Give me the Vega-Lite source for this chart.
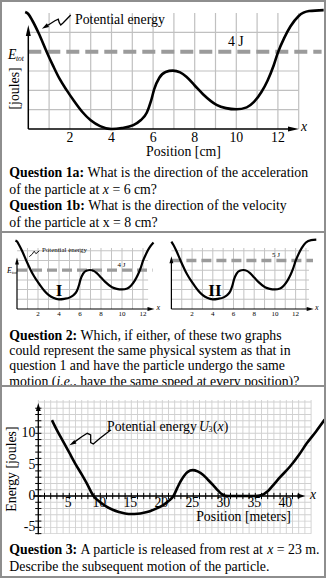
{
"$schema": "https://vega.github.io/schema/vega-lite/v6.json",
"background": "#8e8e8e",
"padding": {"left": 2, "top": 2, "right": 2, "bottom": 2},
"spacing": 0,
"bounds": "flush",
"config": {
  "view": {"fill": "white", "stroke": null},
  "text": {"font": "Liberation Serif", "fontSize": 13.8, "color": "black"},
  "line": {"color": "black"}
},
"datasets": {
  "u1": [{"x":-0.15,"u":6.05},{"x":0,"u":5.95},{"x":0.2,"u":5.6},{"x":0.5,"u":4.95},{"x":0.88,"u":4.0},{"x":1.2,"u":3.25},{"x":1.5,"u":2.6},{"x":1.85,"u":2.0},{"x":2.2,"u":1.45},{"x":2.6,"u":0.88},{"x":3.0,"u":0.45},{"x":3.45,"u":0.15},{"x":4.0,"u":0.0},{"x":4.5,"u":0.05},{"x":5.05,"u":0.2},{"x":5.4,"u":0.45},{"x":5.7,"u":0.85},{"x":5.9,"u":1.45},{"x":6.05,"u":2.05},{"x":6.3,"u":2.65},{"x":6.6,"u":2.95},{"x":6.95,"u":3.02},{"x":7.3,"u":2.93},{"x":7.6,"u":2.7},{"x":8.0,"u":2.25},{"x":8.4,"u":1.8},{"x":9.05,"u":1.25},{"x":9.5,"u":1.08},{"x":10.0,"u":1.02},{"x":10.5,"u":1.12},{"x":10.85,"u":1.4},{"x":11.2,"u":1.9},{"x":11.5,"u":2.5},{"x":11.8,"u":3.3},{"x":12.0,"u":3.95},{"x":12.3,"u":4.7},{"x":12.6,"u":5.3},{"x":13.0,"u":5.85},{"x":13.5,"u":6.1},{"x":14.2,"u":6.15}],
  "u1s": [{"x":-0.15,"u":7.05},{"x":0,"u":6.95},{"x":0.2,"u":6.6},{"x":0.5,"u":5.95},{"x":0.88,"u":5.0},{"x":1.2,"u":4.25},{"x":1.5,"u":3.6},{"x":1.85,"u":3.0},{"x":2.2,"u":2.45},{"x":2.6,"u":1.88},{"x":3.0,"u":1.45},{"x":3.45,"u":1.15},{"x":4.0,"u":1.0},{"x":4.5,"u":1.05},{"x":5.05,"u":1.2},{"x":5.4,"u":1.45},{"x":5.7,"u":1.85},{"x":5.9,"u":2.45},{"x":6.05,"u":3.05},{"x":6.3,"u":3.65},{"x":6.6,"u":3.95},{"x":6.95,"u":4.02},{"x":7.3,"u":3.93},{"x":7.6,"u":3.7},{"x":8.0,"u":3.25},{"x":8.4,"u":2.8},{"x":9.05,"u":2.25},{"x":9.5,"u":2.08},{"x":10.0,"u":2.02},{"x":10.5,"u":2.12},{"x":10.85,"u":2.4},{"x":11.2,"u":2.9},{"x":11.5,"u":3.5},{"x":11.8,"u":4.3},{"x":12.0,"u":4.95},{"x":12.3,"u":5.7},{"x":12.6,"u":6.3},{"x":13.0,"u":6.85},{"x":13.5,"u":7.1},{"x":14.0,"u":7.15}],
  "u3": [{"x":2.2,"u":12.1},{"x":3,"u":10.5},{"x":4,"u":8.7},{"x":5,"u":6.9},{"x":6,"u":5.1},{"x":7,"u":3.45},{"x":7.8,"u":2.05},{"x":8.9,"u":0.0},{"x":10,"u":-1.0},{"x":11,"u":-1.7},{"x":12,"u":-2.2},{"x":13,"u":-2.55},{"x":14,"u":-2.78},{"x":15,"u":-2.88},{"x":16,"u":-2.84},{"x":17,"u":-2.68},{"x":18,"u":-2.42},{"x":19,"u":-2.02},{"x":20.2,"u":-1.42},{"x":21,"u":-0.8},{"x":21.8,"u":0.0},{"x":22.4,"u":1.25},{"x":22.9,"u":2.25},{"x":23.5,"u":3.2},{"x":24.1,"u":3.85},{"x":24.9,"u":4.12},{"x":25.7,"u":3.92},{"x":26.6,"u":3.35},{"x":27.4,"u":2.55},{"x":28.2,"u":1.72},{"x":29,"u":0.85},{"x":29.6,"u":0.3},{"x":30.2,"u":0.03},{"x":31,"u":0},{"x":33,"u":0},{"x":35,"u":0},{"x":35.9,"u":0.1},{"x":37,"u":0.75},{"x":37.9,"u":1.75},{"x":39,"u":3.0},{"x":40.6,"u":4.7},{"x":42,"u":6.5},{"x":43.3,"u":8.4},{"x":44.8,"u":10.3},{"x":46.2,"u":12.2}],
  "gx": [{"g":0},{"g":1},{"g":2},{"g":3},{"g":4},{"g":5},{"g":6},{"g":7},{"g":8},{"g":9},{"g":10},{"g":11},{"g":12},{"g":13},{"g":14},{"g":15},{"g":16},{"g":17},{"g":18},{"g":19},{"g":20},{"g":21},{"g":22},{"g":23},{"g":24},{"g":25},{"g":26},{"g":27},{"g":28},{"g":29},{"g":30},{"g":31},{"g":32},{"g":33},{"g":34},{"g":35},{"g":36},{"g":37},{"g":38},{"g":39},{"g":40},{"g":41},{"g":42},{"g":43},{"g":44}],
  "gy": [{"g":-6},{"g":-5},{"g":-4},{"g":-3},{"g":-2},{"g":-1},{"g":0},{"g":1},{"g":2},{"g":3},{"g":4},{"g":5},{"g":6},{"g":7},{"g":8},{"g":9},{"g":10},{"g":11},{"g":12},{"g":13},{"g":14},{"g":15}],
  "smallticks": [{"v":2},{"v":4},{"v":6},{"v":8},{"v":10},{"v":12}]
},
"vconcat": [
  {
    "width": 322, "height": 158,
    "layer": [
      {"data": {"name": "gx"},
       "transform": [{"filter": "datum.g >= 1 && datum.g <= 13"}],
       "mark": {"type": "tick", "orient": "vertical", "color": "#c0c0c0", "thickness": 1.2, "size": 116, "opacity": 1},
       "encoding": {"x": {"field": "g", "type": "quantitative", "scale": {"domain": [-1.2644, 14.2163], "nice": false, "zero": false}, "axis": null},
                    "y": {"datum": 3, "type": "quantitative", "scale": {"domain": [-1.6037, 6.57], "nice": false, "zero": false}, "axis": null}}},
      {"data": {"name": "gy"},
       "transform": [{"filter": "datum.g >= 1 && datum.g <= 5 && datum.g != 4"}],
       "mark": {"type": "tick", "orient": "horizontal", "color": "#c0c0c0", "thickness": 1.2, "size": 270.4, "opacity": 1},
       "encoding": {"y": {"field": "g", "type": "quantitative"}, "x": {"datum": 6.5, "type": "quantitative"}}},
      {"data": {"values": [{"e": 4}]},
       "mark": {"type": "rule", "color": "#9b9b9b", "strokeWidth": 4, "strokeDash": [13, 6]},
       "encoding": {"y": {"field": "e", "type": "quantitative"}, "x": {"datum": 0, "type": "quantitative"}, "x2": {"datum": 14.1}}},
      {"data": {"values": [{"t": "4 J"}]},
       "mark": {"type": "text", "baseline": "middle", "align": "center"},
       "encoding": {"x": {"datum": 9.98, "type": "quantitative"}, "y": {"datum": 4.49, "type": "quantitative"}, "text": {"field": "t"}}},
      {"data": {"name": "u1"},
       "mark": {"type": "line", "interpolate": "monotone", "strokeWidth": 2.6, "color": "black", "clip": true},
       "encoding": {"x": {"field": "x", "type": "quantitative"}, "y": {"field": "u", "type": "quantitative"}}},
      {"data": {"values": [{"a": "x"}]},
       "mark": {"type": "rule", "strokeWidth": 1.5, "color": "black"},
       "encoding": {"x": {"datum": 0, "type": "quantitative"}, "x2": {"datum": 12.75}, "y": {"datum": 0, "type": "quantitative"}}},
      {"data": {"values": [{"a": "y"}]},
       "mark": {"type": "rule", "strokeWidth": 1.5, "color": "black"},
       "encoding": {"x": {"datum": 0, "type": "quantitative"}, "y": {"datum": 0, "type": "quantitative"}, "y2": {"datum": 5.1}}},
      {"data": {"values": [{"a": "x"}]},
       "mark": {"type": "point", "shape": "M-1,-0.45L1,0L-1,0.45Z", "filled": true, "size": 121, "color": "black", "opacity": 1},
       "encoding": {"x": {"datum": 12.75, "type": "quantitative"}, "y": {"datum": 0, "type": "quantitative"}}},
      {"data": {"values": [{"a": "y"}]},
       "mark": {"type": "point", "shape": "M-1,-0.45L1,0L-1,0.45Z", "filled": true, "size": 121, "color": "black", "opacity": 1, "angle": 270},
       "encoding": {"x": {"datum": 0, "type": "quantitative"}, "y": {"datum": 5.1, "type": "quantitative"}}},
      {"data": {"name": "smallticks"},
       "mark": {"type": "text", "baseline": "middle", "align": "center", "dy": 9.3},
       "encoding": {"x": {"field": "v", "type": "quantitative"}, "y": {"datum": 0, "type": "quantitative"}, "text": {"field": "v", "type": "nominal"}}},
      {"data": {"values": [{"t": "Position [cm]"}]},
       "mark": {"type": "text", "baseline": "middle", "align": "center"},
       "encoding": {"x": {"datum": 7.46, "type": "quantitative"}, "y": {"datum": -1.19, "type": "quantitative"}, "text": {"field": "t"}}},
      {"data": {"values": [{"t": "[joules]"}]},
       "mark": {"type": "text", "baseline": "middle", "align": "center", "angle": 270},
       "encoding": {"x": {"datum": -0.64, "type": "quantitative"}, "y": {"datum": 2.1, "type": "quantitative"}, "text": {"field": "t"}}},
      {"data": {"values": [{"t": "E"}]},
       "mark": {"type": "text", "align": "left", "fontStyle": "italic"},
       "encoding": {"x": {"datum": -0.976, "type": "quantitative"}, "y": {"datum": 3.83, "type": "quantitative"}, "text": {"field": "t"}}},
      {"data": {"values": [{"t": "tot"}]},
       "mark": {"type": "text", "align": "left", "fontStyle": "italic", "fontSize": 7.5, "dx": 8, "dy": 4},
       "encoding": {"x": {"datum": -0.976, "type": "quantitative"}, "y": {"datum": 3.83, "type": "quantitative"}, "text": {"field": "t"}}},
      {"data": {"values": [{"t": "x"}]},
       "mark": {"type": "text", "align": "center", "baseline": "middle", "fontStyle": "italic"},
       "encoding": {"x": {"datum": 13.26, "type": "quantitative"}, "y": {"datum": 0.1, "type": "quantitative"}, "text": {"field": "t"}}},
      {"data": {"values": [{"t": "Potential energy"}]},
       "mark": {"type": "text", "align": "left"},
       "encoding": {"x": {"datum": 2.245, "type": "quantitative"}, "y": {"datum": 5.66, "type": "quantitative"}, "text": {"field": "t"}}},
      {"data": {"values": [{"i":0,"x":2.04,"y":5.9},{"i":1,"x":1.68,"y":5.5},{"i":2,"x":1.56,"y":5.38},{"i":3,"x":1.49,"y":5.5},{"i":4,"x":1.44,"y":5.68},{"i":5,"x":1.28,"y":5.6},{"i":6,"x":0.885,"y":5.33}]},
       "mark": {"type": "line", "strokeWidth": 1.3, "color": "black"},
       "encoding": {"x": {"field": "x", "type": "quantitative"}, "y": {"field": "y", "type": "quantitative"}, "order": {"field": "i", "type": "quantitative"}}},
      {"data": {"values": [{"a": "tip"}]},
       "mark": {"type": "point", "shape": "M-1,-0.6L1,0L-1,0.6Z", "filled": true, "size": 49, "color": "black", "opacity": 1, "angle": 150},
       "encoding": {"x": {"datum": 0.8, "type": "quantitative"}, "y": {"datum": 5.28, "type": "quantitative"}}}
    ]
  },
  {
    "width": 322, "height": 71,
    "layer": [
      {"data": {"values": [{"line": 1, "t": "Question 1a:"}, {"line": 3, "t": "Question 1b:"}]},
       "mark": {"type": "text", "align": "left", "fontWeight": "bold", "dx": 7.3},
       "encoding": {"x": {"datum": 0, "type": "quantitative", "scale": {"domain": [0, 1], "nice": false, "zero": false}, "axis": null},
                    "y": {"field": "line", "type": "quantitative", "scale": {"domain": [0.2216, 4.473], "reverse": true, "nice": false, "zero": false}, "axis": null},
                    "text": {"field": "t"}}},
      {"data": {"values": [{"line": 2, "t": "of the particle at"}, {"line": 4, "t": "of the particle at x = 8 cm?"}]},
       "mark": {"type": "text", "align": "left", "dx": 7.3},
       "encoding": {"x": {"datum": 0, "type": "quantitative"}, "y": {"field": "line", "type": "quantitative"}, "text": {"field": "t"}}},
      {"data": {"values": [{"line": 1, "t": "What is the direction of the acceleration"}]},
       "mark": {"type": "text", "align": "left", "dx": 85.5},
       "encoding": {"x": {"datum": 0, "type": "quantitative"}, "y": {"field": "line", "type": "quantitative"}, "text": {"field": "t"}}},
      {"data": {"values": [{"line": 3, "t": "What is the direction of the velocity"}]},
       "mark": {"type": "text", "align": "left", "dx": 86.3},
       "encoding": {"x": {"datum": 0, "type": "quantitative"}, "y": {"field": "line", "type": "quantitative"}, "text": {"field": "t"}}},
      {"data": {"values": [{"line": 2, "t": "x"}]},
       "mark": {"type": "text", "align": "left", "fontStyle": "italic", "dx": 100.8},
       "encoding": {"x": {"datum": 0, "type": "quantitative"}, "y": {"field": "line", "type": "quantitative"}, "text": {"field": "t"}}},
      {"data": {"values": [{"line": 2, "t": "= 6 cm?"}]},
       "mark": {"type": "text", "align": "left", "dx": 110.4},
       "encoding": {"x": {"datum": 0, "type": "quantitative"}, "y": {"field": "line", "type": "quantitative"}, "text": {"field": "t"}}}
    ]
  },
  {
    "width": 322, "height": 2, "view": {"fill": "#8e8e8e"},
    "data": {"values": [{"d": 0}]},
    "mark": {"type": "text", "text": ""},
    "encoding": {}
  },
  {
    "width": 322, "height": 85,
    "resolve": {"scale": {"x": "independent"}},
    "layer": [
    {
      "layer": [
        {"data": {"name": "gx"},
         "transform": [{"filter": "datum.g >= 1 && datum.g <= 12"}],
         "mark": {"type": "tick", "orient": "vertical", "color": "#c4c4c4", "thickness": 1, "size": 61, "opacity": 1},
         "encoding": {"x": {"field": "g", "type": "quantitative", "scale": {"domain": [-1.4286, 29.238], "nice": false, "zero": false}, "axis": null},
                      "y": {"datum": 3.15, "type": "quantitative", "scale": {"domain": [-0.9278, 7.8351], "nice": false, "zero": false}, "axis": null}}},
        {"data": {"name": "gy"},
         "transform": [{"filter": "datum.g >= 1 && datum.g <= 6 && datum.g != 4"}],
         "mark": {"type": "tick", "orient": "horizontal", "color": "#c4c4c4", "thickness": 1, "size": 131, "opacity": 1},
         "encoding": {"y": {"field": "g", "type": "quantitative"}, "x": {"datum": 6.25, "type": "quantitative"}}},
        {"data": {"values": [{"e": 4}]},
         "mark": {"type": "rule", "color": "#9b9b9b", "strokeWidth": 3.3, "strokeDash": [10, 5]},
         "encoding": {"y": {"field": "e", "type": "quantitative"}, "x": {"datum": 0, "type": "quantitative"}, "x2": {"datum": 12.9}}},
        {"data": {"values": [{"t": "4 J"}]},
         "mark": {"type": "text", "baseline": "middle", "align": "center", "fontSize": 7},
         "encoding": {"x": {"datum": 9.95, "type": "quantitative"}, "y": {"datum": 4.5, "type": "quantitative"}, "text": {"field": "t"}}},
        {"data": {"name": "u1s"},
         "transform": [{"filter": "datum.x <= 13.1"}],
         "mark": {"type": "line", "interpolate": "monotone", "strokeWidth": 2.2, "color": "black", "clip": true},
         "encoding": {"x": {"field": "x", "type": "quantitative"}, "y": {"field": "u", "type": "quantitative"}}},
        {"data": {"values": [{"a": "x"}]},
         "mark": {"type": "rule", "strokeWidth": 1.2, "color": "black"},
         "encoding": {"x": {"datum": 0, "type": "quantitative"}, "x2": {"datum": 12.76}, "y": {"datum": 0, "type": "quantitative"}}},
        {"data": {"values": [{"a": "y"}]},
         "mark": {"type": "rule", "strokeWidth": 1.2, "color": "black"},
         "encoding": {"x": {"datum": 0, "type": "quantitative"}, "y": {"datum": 0, "type": "quantitative"}, "y2": {"datum": 4.95}}},
        {"data": {"values": [{"a": "x"}]},
         "mark": {"type": "point", "shape": "M-1,-0.55L1,0L-1,0.55Z", "filled": true, "size": 49, "color": "black", "opacity": 1},
         "encoding": {"x": {"datum": 12.76, "type": "quantitative"}, "y": {"datum": 0, "type": "quantitative"}}},
        {"data": {"values": [{"a": "y"}]},
         "mark": {"type": "point", "shape": "M-1,-0.55L1,0L-1,0.55Z", "filled": true, "size": 49, "color": "black", "opacity": 1, "angle": 270},
         "encoding": {"x": {"datum": 0, "type": "quantitative"}, "y": {"datum": 4.95, "type": "quantitative"}}},
        {"data": {"name": "smallticks"},
         "mark": {"type": "text", "baseline": "top", "align": "center", "fontSize": 7, "dy": 1},
         "encoding": {"x": {"field": "v", "type": "quantitative"}, "y": {"datum": 0, "type": "quantitative"}, "text": {"field": "v", "type": "nominal"}}},
        {"data": {"values": [{"t": "x"}]},
         "mark": {"type": "text", "align": "center", "baseline": "middle", "fontStyle": "italic", "fontSize": 8},
         "encoding": {"x": {"datum": 13.45, "type": "quantitative"}, "y": {"datum": 0.1, "type": "quantitative"}, "text": {"field": "t"}}},
        {"data": {"values": [{"t": "E"}]},
         "mark": {"type": "text", "align": "left", "fontStyle": "italic", "fontSize": 8},
         "encoding": {"x": {"datum": -0.95, "type": "quantitative"}, "y": {"datum": 3.9, "type": "quantitative"}, "text": {"field": "t"}}},
        {"data": {"values": [{"t": "tot"}]},
         "mark": {"type": "text", "align": "left", "fontStyle": "italic", "fontSize": 4.5, "dx": 5, "dy": 2},
         "encoding": {"x": {"datum": -0.95, "type": "quantitative"}, "y": {"datum": 3.9, "type": "quantitative"}, "text": {"field": "t"}}},
        {"data": {"values": [{"t": "Potential energy"}]},
         "mark": {"type": "text", "align": "left", "baseline": "middle", "fontSize": 6.9},
         "encoding": {"x": {"datum": 2.38, "type": "quantitative"}, "y": {"datum": 6.08, "type": "quantitative"}, "text": {"field": "t"}}},
        {"data": {"values": [{"i":0,"x":2.12,"y":6.0},{"i":1,"x":1.8,"y":5.7},{"i":2,"x":1.72,"y":5.85},{"i":3,"x":1.62,"y":5.95},{"i":4,"x":1.45,"y":5.65},{"i":5,"x":1.17,"y":5.4}]},
         "mark": {"type": "line", "strokeWidth": 0.9, "color": "black"},
         "encoding": {"x": {"field": "x", "type": "quantitative"}, "y": {"field": "y", "type": "quantitative"}, "order": {"field": "i", "type": "quantitative"}}},
        {"data": {"values": [{"t": "I"}]},
         "mark": {"type": "text", "align": "center", "baseline": "middle", "fontWeight": "bold", "fontSize": 17},
         "encoding": {"x": {"datum": 4.0, "type": "quantitative"}, "y": {"datum": 1.9, "type": "quantitative"}, "text": {"field": "t"}}}
      ]
    },
    {
      "layer": [
        {"data": {"name": "gx"},
         "transform": [{"filter": "datum.g >= 1 && datum.g <= 13"}],
         "mark": {"type": "tick", "orient": "vertical", "color": "#c4c4c4", "thickness": 1, "size": 61, "opacity": 1},
         "encoding": {"x": {"field": "g", "type": "quantitative", "scale": {"domain": [-16.367, 14.744], "nice": false, "zero": false}, "axis": null},
                      "y": {"datum": 3.15, "type": "quantitative", "axis": null}}},
        {"data": {"name": "gy"},
         "transform": [{"filter": "datum.g >= 1 && datum.g <= 6 && datum.g != 5"}],
         "mark": {"type": "tick", "orient": "horizontal", "color": "#c4c4c4", "thickness": 1, "size": 137.6, "opacity": 1},
         "encoding": {"y": {"field": "g", "type": "quantitative"}, "x": {"datum": 6.65, "type": "quantitative"}}},
        {"data": {"values": [{"e": 5}]},
         "mark": {"type": "rule", "color": "#9b9b9b", "strokeWidth": 3.3, "strokeDash": [10, 5]},
         "encoding": {"y": {"field": "e", "type": "quantitative"}, "x": {"datum": 0, "type": "quantitative"}, "x2": {"datum": 13.68}}},
        {"data": {"values": [{"t": "5 J"}]},
         "mark": {"type": "text", "baseline": "middle", "align": "center", "fontSize": 7},
         "encoding": {"x": {"datum": 10.1, "type": "quantitative"}, "y": {"datum": 5.57, "type": "quantitative"}, "text": {"field": "t"}}},
        {"data": {"name": "u1s"},
         "transform": [{"filter": "datum.x >= -0.1"}],
         "mark": {"type": "line", "interpolate": "monotone", "strokeWidth": 2.2, "color": "black", "clip": true},
         "encoding": {"x": {"field": "x", "type": "quantitative"}, "y": {"field": "u", "type": "quantitative"}}},
        {"data": {"values": [{"a": "x"}]},
         "mark": {"type": "rule", "strokeWidth": 1.2, "color": "black"},
         "encoding": {"x": {"datum": 0, "type": "quantitative"}, "x2": {"datum": 13.41}, "y": {"datum": 0, "type": "quantitative"}}},
        {"data": {"values": [{"a": "y"}]},
         "mark": {"type": "rule", "strokeWidth": 1.2, "color": "black"},
         "encoding": {"x": {"datum": 0, "type": "quantitative"}, "y": {"datum": 0, "type": "quantitative"}, "y2": {"datum": 5.09}}},
        {"data": {"values": [{"a": "x"}]},
         "mark": {"type": "point", "shape": "M-1,-0.55L1,0L-1,0.55Z", "filled": true, "size": 49, "color": "black", "opacity": 1},
         "encoding": {"x": {"datum": 13.41, "type": "quantitative"}, "y": {"datum": 0, "type": "quantitative"}}},
        {"data": {"values": [{"a": "y"}]},
         "mark": {"type": "point", "shape": "M-1,-0.55L1,0L-1,0.55Z", "filled": true, "size": 49, "color": "black", "opacity": 1, "angle": 270},
         "encoding": {"x": {"datum": 0, "type": "quantitative"}, "y": {"datum": 5.09, "type": "quantitative"}}},
        {"data": {"name": "smallticks"},
         "mark": {"type": "text", "baseline": "top", "align": "center", "fontSize": 7, "dy": 1},
         "encoding": {"x": {"field": "v", "type": "quantitative"}, "y": {"datum": 0, "type": "quantitative"}, "text": {"field": "v", "type": "nominal"}}},
        {"data": {"values": [{"t": "x"}]},
         "mark": {"type": "text", "align": "center", "baseline": "middle", "fontStyle": "italic", "fontSize": 8},
         "encoding": {"x": {"datum": 14.05, "type": "quantitative"}, "y": {"datum": 0.1, "type": "quantitative"}, "text": {"field": "t"}}},
        {"data": {"values": [{"t": "II"}]},
         "mark": {"type": "text", "align": "center", "baseline": "middle", "fontWeight": "bold", "fontSize": 17},
         "encoding": {"x": {"datum": 4.2, "type": "quantitative"}, "y": {"datum": 1.9, "type": "quantitative"}, "text": {"field": "t"}}}
      ]
    }
    ]
  },
  {
    "width": 322, "height": 67,
    "layer": [
      {"data": {"values": [{"line": 1, "t": "Question 2:"}]},
       "mark": {"type": "text", "align": "left", "fontWeight": "bold", "dx": 7.3},
       "encoding": {"x": {"datum": 0, "type": "quantitative", "scale": {"domain": [0, 1], "nice": false, "zero": false}, "axis": null},
                    "y": {"field": "line", "type": "quantitative", "scale": {"domain": [-0.1842, 4.2237], "reverse": true, "nice": false, "zero": false}, "axis": null},
                    "text": {"field": "t"}}},
      {"data": {"values": [{"line": 1, "t": "Which, if either, of these two graphs"}]},
       "mark": {"type": "text", "align": "left", "dx": 78.6},
       "encoding": {"x": {"datum": 0, "type": "quantitative"}, "y": {"field": "line", "type": "quantitative"}, "text": {"field": "t"}}},
      {"data": {"values": [{"line": 2, "t": "could represent the same physical system as that in"}, {"line": 3, "t": "question 1 and have the particle undergo the same"}, {"line": 4, "t": "motion ("}]},
       "mark": {"type": "text", "align": "left", "dx": 7.3},
       "encoding": {"x": {"datum": 0, "type": "quantitative"}, "y": {"field": "line", "type": "quantitative"}, "text": {"field": "t"}}},
      {"data": {"values": [{"line": 4, "t": "i.e.,"}]},
       "mark": {"type": "text", "align": "left", "fontStyle": "italic", "dx": 54.45},
       "encoding": {"x": {"datum": 0, "type": "quantitative"}, "y": {"field": "line", "type": "quantitative"}, "text": {"field": "t"}}},
      {"data": {"values": [{"line": 4, "t": "have the same speed at every position)?"}]},
       "mark": {"type": "text", "align": "left", "dx": 78.2},
       "encoding": {"x": {"datum": 0, "type": "quantitative"}, "y": {"field": "line", "type": "quantitative"}, "text": {"field": "t"}}}
    ]
  },
  {
    "width": 322, "height": 2, "view": {"fill": "#8e8e8e"},
    "data": {"values": [{"d": 0}]},
    "mark": {"type": "text", "text": ""},
    "encoding": {}
  },
  {
    "width": 322, "height": 152,
    "layer": [
      {"data": {"name": "gx"},
       "mark": {"type": "tick", "orient": "vertical", "color": "#d0d0d0", "thickness": 0.9, "size": 133.6, "opacity": 1},
       "encoding": {"x": {"field": "g", "type": "quantitative", "scale": {"domain": [-5.855, 46.081], "nice": false, "zero": false}, "axis": null},
                    "y": {"datum": 4.65, "type": "quantitative", "scale": {"domain": [-6.858, 17.384], "nice": false, "zero": false}, "axis": null}}},
      {"data": {"name": "gy"},
       "mark": {"type": "tick", "orient": "horizontal", "color": "#d0d0d0", "thickness": 0.9, "size": 272.8, "opacity": 1},
       "encoding": {"y": {"field": "g", "type": "quantitative"}, "x": {"datum": 22, "type": "quantitative"}}},
      {"data": {"name": "u3"},
       "mark": {"type": "line", "interpolate": "monotone", "strokeWidth": 2.6, "color": "black", "clip": true},
       "encoding": {"x": {"field": "x", "type": "quantitative"}, "y": {"field": "u", "type": "quantitative"}}},
      {"data": {"values": [{"a": "x"}]},
       "mark": {"type": "rule", "strokeWidth": 1.3, "color": "black"},
       "encoding": {"x": {"datum": -0.8, "type": "quantitative"}, "x2": {"datum": 42.45}, "y": {"datum": 0, "type": "quantitative"}}},
      {"data": {"values": [{"a": "y"}]},
       "mark": {"type": "rule", "strokeWidth": 1.3, "color": "black"},
       "encoding": {"x": {"datum": 0, "type": "quantitative"}, "y": {"datum": -6.1, "type": "quantitative"}, "y2": {"datum": 14.2}}},
      {"data": {"name": "gx"},
       "transform": [{"filter": "datum.g >= 1 && datum.g <= 42"}],
       "mark": {"type": "rule", "strokeWidth": 1, "color": "black"},
       "encoding": {"x": {"field": "g", "type": "quantitative"}, "y": {"datum": -0.5, "type": "quantitative"}, "y2": {"datum": 0.5}}},
      {"data": {"name": "gy"},
       "transform": [{"filter": "datum.g <= 14"}],
       "mark": {"type": "rule", "strokeWidth": 1, "color": "black"},
       "encoding": {"y": {"field": "g", "type": "quantitative"}, "x": {"datum": -0.5, "type": "quantitative"}, "x2": {"datum": 0.5}}},
      {"data": {"values": [{"a": "x"}]},
       "mark": {"type": "point", "shape": "M-1,-0.6L1,0L-1,0.6Z", "filled": true, "size": 64, "color": "black", "opacity": 1},
       "encoding": {"x": {"datum": 42.45, "type": "quantitative"}, "y": {"datum": 0, "type": "quantitative"}}},
      {"data": {"values": [{"a": "y"}]},
       "mark": {"type": "point", "shape": "M-1,-0.6L1,0L-1,0.6Z", "filled": true, "size": 64, "color": "black", "opacity": 1, "angle": 270},
       "encoding": {"x": {"datum": 0, "type": "quantitative"}, "y": {"datum": 14.2, "type": "quantitative"}}},
      {"data": {"values": [{"v": 5}, {"v": 10}, {"v": 15}, {"v": 20}, {"v": 25}, {"v": 30}, {"v": 35}, {"v": 40}]},
       "mark": {"type": "text", "baseline": "middle", "align": "center", "dy": 7.5, "dx": -1},
       "encoding": {"x": {"field": "v", "type": "quantitative"}, "y": {"datum": 0, "type": "quantitative"}, "text": {"field": "v", "type": "nominal"}}},
      {"data": {"values": [{"v": 10}, {"v": 5}, {"v": 0}, {"v": -5}]},
       "mark": {"type": "text", "baseline": "middle", "align": "right", "dx": -3},
       "encoding": {"y": {"field": "v", "type": "quantitative"}, "x": {"datum": 0, "type": "quantitative"}, "text": {"field": "v", "type": "nominal"}}},
      {"data": {"values": [{"t": "Energy [joules]"}]},
       "mark": {"type": "text", "baseline": "middle", "align": "center", "angle": 270},
       "encoding": {"x": {"datum": -4.24, "type": "quantitative"}, "y": {"datum": 4.3, "type": "quantitative"}, "text": {"field": "t"}}},
      {"data": {"values": [{"t": "Position [meters]"}]},
       "mark": {"type": "text", "baseline": "middle", "align": "center"},
       "encoding": {"x": {"datum": 33.1, "type": "quantitative"}, "y": {"datum": -3.35, "type": "quantitative"}, "text": {"field": "t"}}},
      {"data": {"values": [{"t": "x"}]},
       "mark": {"type": "text", "baseline": "middle", "align": "center", "fontStyle": "italic"},
       "encoding": {"x": {"datum": 44.3, "type": "quantitative"}, "y": {"datum": 0.1, "type": "quantitative"}, "text": {"field": "t"}}},
      {"data": {"values": [{"t": "Potential energy"}]},
       "mark": {"type": "text", "align": "left"},
       "encoding": {"x": {"datum": 11.08, "type": "quantitative"}, "y": {"datum": 11.0, "type": "quantitative"}, "text": {"field": "t"}}},
      {"data": {"values": [{"t": "U"}]},
       "mark": {"type": "text", "align": "left", "fontStyle": "italic", "dx": 92},
       "encoding": {"x": {"datum": 11.08, "type": "quantitative"}, "y": {"datum": 11.0, "type": "quantitative"}, "text": {"field": "t"}}},
      {"data": {"values": [{"t": "3"}]},
       "mark": {"type": "text", "align": "left", "fontSize": 8, "dx": 101.5, "dy": 3},
       "encoding": {"x": {"datum": 11.08, "type": "quantitative"}, "y": {"datum": 11.0, "type": "quantitative"}, "text": {"field": "t"}}},
      {"data": {"values": [{"t": "("}]},
       "mark": {"type": "text", "align": "left", "dx": 106},
       "encoding": {"x": {"datum": 11.08, "type": "quantitative"}, "y": {"datum": 11.0, "type": "quantitative"}, "text": {"field": "t"}}},
      {"data": {"values": [{"t": "x"}]},
       "mark": {"type": "text", "align": "left", "fontStyle": "italic", "dx": 110.6},
       "encoding": {"x": {"datum": 11.08, "type": "quantitative"}, "y": {"datum": 11.0, "type": "quantitative"}, "text": {"field": "t"}}},
      {"data": {"values": [{"t": ")"}]},
       "mark": {"type": "text", "align": "left", "dx": 116.7},
       "encoding": {"x": {"datum": 11.08, "type": "quantitative"}, "y": {"datum": 11.0, "type": "quantitative"}, "text": {"field": "t"}}},
      {"data": {"values": [{"i":0,"x":11.68,"y":10.53},{"i":1,"x":9.95,"y":9.2},{"i":2,"x":8.87,"y":8.29},{"i":3,"x":8.45,"y":8.5},{"i":4,"x":8.45,"y":9.73},{"i":5,"x":7.9,"y":10.0},{"i":6,"x":7.0,"y":9.46},{"i":7,"x":5.75,"y":8.55}]},
       "mark": {"type": "line", "strokeWidth": 1.3, "color": "black"},
       "encoding": {"x": {"field": "x", "type": "quantitative"}, "y": {"field": "y", "type": "quantitative"}, "order": {"field": "i", "type": "quantitative"}}},
      {"data": {"values": [{"a": "tip"}]},
       "mark": {"type": "point", "shape": "M-1,-0.6L1,0L-1,0.6Z", "filled": true, "size": 49, "color": "black", "opacity": 1, "angle": 150},
       "encoding": {"x": {"datum": 5.5, "type": "quantitative"}, "y": {"datum": 8.38, "type": "quantitative"}}}
    ]
  },
  {
    "width": 322, "height": 37,
    "layer": [
      {"data": {"values": [{"line": 1, "t": "Question 3:"}]},
       "mark": {"type": "text", "align": "left", "fontWeight": "bold", "dx": 7.3},
       "encoding": {"x": {"datum": 0, "type": "quantitative", "scale": {"domain": [0, 1], "nice": false, "zero": false}, "axis": null},
                    "y": {"field": "line", "type": "quantitative", "scale": {"domain": [0.3413, 2.5569], "reverse": true, "nice": false, "zero": false}, "axis": null},
                    "text": {"field": "t"}}},
      {"data": {"values": [{"line": 1, "t": "A particle is released from rest at"}]},
       "mark": {"type": "text", "align": "left", "dx": 78.6},
       "encoding": {"x": {"datum": 0, "type": "quantitative"}, "y": {"field": "line", "type": "quantitative"}, "text": {"field": "t"}}},
      {"data": {"values": [{"line": 1, "t": "x"}]},
       "mark": {"type": "text", "align": "left", "fontStyle": "italic", "dx": 265.2},
       "encoding": {"x": {"datum": 0, "type": "quantitative"}, "y": {"field": "line", "type": "quantitative"}, "text": {"field": "t"}}},
      {"data": {"values": [{"line": 1, "t": "= 23 m."}]},
       "mark": {"type": "text", "align": "left", "dx": 274.8},
       "encoding": {"x": {"datum": 0, "type": "quantitative"}, "y": {"field": "line", "type": "quantitative"}, "text": {"field": "t"}}},
      {"data": {"values": [{"line": 2, "t": "Describe the subsequent motion of the particle."}]},
       "mark": {"type": "text", "align": "left", "dx": 7.3},
       "encoding": {"x": {"datum": 0, "type": "quantitative"}, "y": {"field": "line", "type": "quantitative"}, "text": {"field": "t"}}}
    ]
  }
]
}
